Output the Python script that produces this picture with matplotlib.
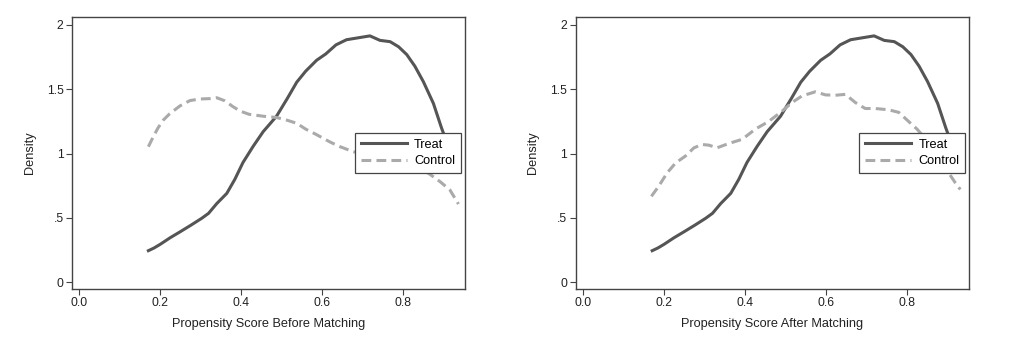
import matplotlib
matplotlib.use("Agg")
import matplotlib.pyplot as plt

plt.rcParams['font.family'] = ['Liberation Sans', 'DejaVu Sans']

# Treated (same in both panels)
treat_x = [0.171, 0.185, 0.200, 0.225, 0.249, 0.275, 0.303, 0.320, 0.340, 0.365, 0.385, 0.405,
           0.430, 0.455, 0.488, 0.515, 0.538, 0.560, 0.587, 0.610, 0.635, 0.661, 0.690, 0.719,
           0.744, 0.769, 0.790, 0.810, 0.830, 0.851, 0.876, 0.896, 0.910, 0.920]
treat_y = [0.244, 0.265, 0.293, 0.345, 0.390, 0.440, 0.496, 0.535, 0.610, 0.690, 0.800, 0.930,
           1.055, 1.170, 1.290, 1.430, 1.555, 1.640, 1.725, 1.775, 1.845, 1.885, 1.900, 1.915,
           1.880, 1.870, 1.830, 1.770, 1.680, 1.560, 1.390, 1.200, 1.080, 0.960]

# Control before matching
ctrl_before_x = [0.171, 0.183, 0.195, 0.208, 0.224, 0.249, 0.274, 0.299, 0.323, 0.340, 0.360,
                 0.380, 0.398, 0.420, 0.455, 0.488, 0.513, 0.538, 0.560, 0.585, 0.620, 0.645,
                 0.678, 0.720, 0.780, 0.830, 0.864, 0.893, 0.917, 0.938]
ctrl_before_y = [1.053, 1.130, 1.200, 1.260, 1.310, 1.370, 1.412, 1.424, 1.427, 1.434, 1.410,
                 1.365, 1.330, 1.305, 1.290, 1.280, 1.260, 1.235, 1.190, 1.150, 1.090, 1.053,
                 1.014, 0.980, 0.930, 0.890, 0.846, 0.780, 0.716, 0.607]

# Control after matching
ctrl_after_x = [0.169, 0.187, 0.208, 0.229, 0.253, 0.274, 0.294, 0.311, 0.331, 0.360, 0.393,
                0.426, 0.459, 0.492, 0.516, 0.541, 0.574, 0.599, 0.623, 0.648, 0.673, 0.697,
                0.722, 0.755, 0.780, 0.804, 0.825, 0.850, 0.875, 0.903, 0.920, 0.932]
ctrl_after_y = [0.667, 0.745, 0.850, 0.927, 0.980, 1.044, 1.070, 1.065, 1.044, 1.078, 1.110,
                1.190, 1.250, 1.330, 1.396, 1.448, 1.480, 1.456, 1.453, 1.460, 1.396, 1.350,
                1.350, 1.340, 1.320, 1.250, 1.190, 1.100, 0.980, 0.850, 0.770, 0.720]

xticks = [0.0, 0.2, 0.4, 0.6, 0.8]
xtick_labels = ["0.0", "0.2", "0.4", "0.6", "0.8"]
yticks = [0, 0.5, 1, 1.5, 2]
ytick_labels = ["0", ".5", "1", "1.5", "2"]

fig = plt.figure(figsize=(10.18, 3.59), dpi=100)
ax1 = fig.add_axes([0.0707, 0.195, 0.386, 0.7577])
ax2 = fig.add_axes([0.5655, 0.195, 0.3866, 0.7577])

frame_col = '#444444'
treat_col = '#555555'
ctrl_col = '#aaaaaa'

for ax, cx, cy, xl in [(ax1, ctrl_before_x, ctrl_before_y, 'Propensity Score Before Matching'),
                       (ax2, ctrl_after_x, ctrl_after_y, 'Propensity Score After Matching')]:
    ax.plot(treat_x, treat_y, color=treat_col, lw=2.2, label='Treat', solid_joinstyle='round')
    ax.plot(cx, cy, color=ctrl_col, lw=2.2, ls=(0, (3.2, 1.7)), label='Control')
    ax.set_xlim(-0.018, 0.954)
    ax.set_ylim(-0.054, 2.062)
    ax.set_xticks(xticks)
    ax.set_xticklabels(xtick_labels)
    ax.set_yticks(yticks)
    ax.set_yticklabels(ytick_labels)
    ax.tick_params(direction='out', length=4, width=0.8, color=frame_col,
                   labelsize=8.7, labelcolor='#222222', pad=2)
    for s in ax.spines.values():
        s.set_color(frame_col)
        s.set_linewidth(1.0)
    ax.set_xlabel(xl, fontsize=9.2, color='#222222', labelpad=6)
    ax.set_ylabel('Density', fontsize=9.2, color='#222222', labelpad=8)
    leg = ax.legend(loc='center right', bbox_to_anchor=(0.99, 0.5), fontsize=9.2,
                    frameon=True, fancybox=False, framealpha=1, edgecolor=frame_col,
                    handlelength=3.6, handletextpad=0.6, borderpad=0.45, labelspacing=0.35,
                    borderaxespad=0)
    leg.get_frame().set_linewidth(0.9)

fig.savefig('out.png', dpi=100)
